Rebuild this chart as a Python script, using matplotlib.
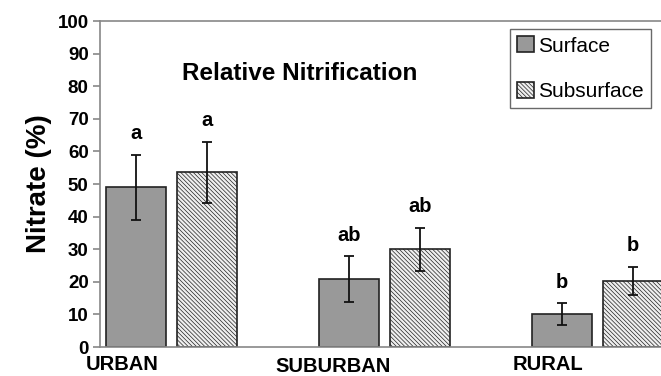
import numpy as np
import matplotlib.pyplot as plt

plt.rcParams['font.family'] = ['Liberation Sans', 'DejaVu Sans']

# Data
sites = ["URBAN", "SUBURBAN", "RURAL"]
surface = [49, 20.8, 10.1]
surface_err = [10, 7, 3.4]
subsurface = [53.6, 30, 20.3]
subsurface_err = [9.4, 6.6, 4.4]
surface_letters = ["a", "ab", "b"]
subsurface_letters = ["a", "ab", "b"]

fig = plt.figure(figsize=(6.61, 3.76), dpi=100)
ax = fig.add_axes([0.151, 0.077, 0.849, 0.867])

x = np.arange(len(sites))
w = 0.28
off = 0.167

ax.bar(x - off, surface, w, color="#999999", edgecolor="#222222", linewidth=1.2,
       yerr=surface_err, capsize=3.5, error_kw=dict(elinewidth=1.3, capthick=1.3, ecolor="#111111"),
       label="Surface")
plt.rcParams['hatch.color'] = "#959595"
plt.rcParams['hatch.linewidth'] = 0.5
ax.bar(x + off, subsurface, w, color="#efefef", edgecolor="#222222", linewidth=1.2,
       hatch="\\\\\\\\\\\\\\\\", yerr=subsurface_err, capsize=3.5,
       error_kw=dict(elinewidth=1.3, capthick=1.3, ecolor="#111111"), label="Subsurface")

# significance letters
for i in range(len(sites)):
    ax.text(x[i] - off, surface[i] + surface_err[i] + 3.5, surface_letters[i],
            ha="center", va="bottom", fontsize=14.5, fontweight="bold")
    ax.text(x[i] + off, subsurface[i] + subsurface_err[i] + 3.5, subsurface_letters[i],
            ha="center", va="bottom", fontsize=14.5, fontweight="bold")

ax.set_ylim(0, 100)
ax.set_yticks(range(0, 101, 10))
ax.set_xlim(-0.336, 2.298)
ax.set_xticks([])
for lab in ax.get_yticklabels():
    lab.set_fontweight("bold")
ax.tick_params(axis="y", labelsize=13.5, length=5, color="#888888", width=1.2, pad=3)

# category labels (staggered)
label_x = [-0.233, 0.757, 1.765]
label_y = [-5.3, -6.1, -5.3]
for lx, ly, s in zip(label_x, label_y, sites):
    ax.text(lx, ly, s, ha="center", va="center", fontsize=14.5, fontweight="bold")

for s in ["left", "top", "bottom"]:
    ax.spines[s].set_color("#888888")
    ax.spines[s].set_linewidth(1.2)
ax.spines["right"].set_visible(False)

ax.set_ylabel("Nitrate (%)", fontsize=20, fontweight="bold", labelpad=4)

ax.text(0.6, 84, "Relative Nitrification", ha="center", va="center",
        fontsize=17.5, fontweight="bold")

leg = ax.legend(loc="upper right", bbox_to_anchor=(0.982, 0.975), fontsize=15,
                frameon=True, fancybox=False, edgecolor="#444444",
                handlelength=0.8, handleheight=0.8, handletextpad=0.2,
                labelspacing=1.25, borderpad=0.35, borderaxespad=0)
leg.get_frame().set_linewidth(1.0)

fig.savefig("out.png", dpi=100)
